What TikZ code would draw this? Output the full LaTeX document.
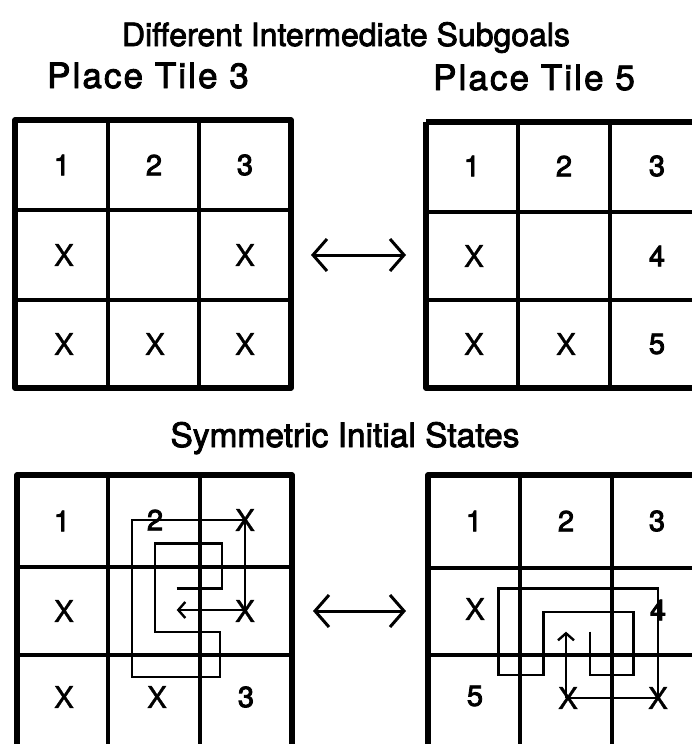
\documentclass[tikz,border=0pt]{standalone}
\usepackage{fontspec}
\setmainfont{TeX Gyre Heros}
\newfontfamily\headfont[FakeBold=2.5]{TeX Gyre Heros}
\newfontfamily\placefont[FakeBold=2.5,LetterSpace=6]{TeX Gyre Heros}
\newfontfamily\digitfont[FakeBold=3]{TeX Gyre Heros}
\newfontfamily\xfont[FakeBold=1]{TeX Gyre Heros}
\usetikzlibrary{arrows.meta}
\begin{document}
\begin{tikzpicture}[x=1pt,y=-1pt,
  outer/.style={line width=5.5pt,line join=round},
  inner/.style={line width=4pt},
  cell/.style={font=\digitfont\fontsize{29}{29}\selectfont,inner sep=0pt},
  xcell/.style={font=\xfont\fontsize{30}{30}\selectfont,inner sep=0pt},
  heading/.style={font=\headfont\fontsize{32}{32}\selectfont,inner sep=0pt,anchor=base},
  bigheading/.style={heading,font=\placefont\fontsize{35}{35}\selectfont},
  symheading/.style={heading,font=\headfont\fontsize{33.5}{33.5}\selectfont},
  swap/.style={line width=3pt,{Straight Barb[length=14pt,width=32pt]}-{Straight Barb[length=14pt,width=32pt]}},
  route/.style={line width=2.4pt,line join=miter},
  routetip/.style={route,-{Straight Barb[length=7pt,width=16pt]}}]
\useasboundingbox (0,0) rectangle (692,744);

% headings
\node[heading] (title) at (346,46) {Different Intermediate Subgoals};
\node[bigheading] (pt3) at (148,88) {Place Tile 3};
\node[bigheading] (pt5) at (534,90) {Place Tile 5};
\node[symheading] (sym) at (345,447) {Symmetric Initial States};

% ---------- top-left grid ----------
\draw[outer] (15,120) rectangle (291,388);
\draw[inner] (108,120) -- (108,388) (199,120) -- (199,388)
             (15,210) -- (291,210) (15,300) -- (291,300);
\node[cell] (a11) at (62,165) {1};
\node[cell] (a12) at (154,165) {2};
\node[cell] (a13) at (245,165) {3};
\node[xcell] (a21) at (64,255) {X};
\node[xcell] (a23) at (245,255) {X};
\node[xcell] (a31) at (64,344) {X};
\node[xcell] (a32) at (155,344) {X};
\node[xcell] (a33) at (245,344) {X};

% ---------- top-right grid ----------
\draw[outer] (426,122) -- (710,122) (426,122) -- (426,388) -- (710,388);
\draw[inner] (518,122) -- (518,388) (610,122) -- (610,388)
             (426,212) -- (710,212) (426,300) -- (710,300);
\node[cell] (b11) at (472,166) {1};
\node[cell] (b12) at (564,166) {2};
\node[cell] (b13) at (657,166) {3};
\node[xcell] (b21) at (474,256) {X};
\node[cell] (b23) at (657,256) {4};
\node[xcell] (b31) at (474,344) {X};
\node[xcell] (b32) at (566,344) {X};
\node[cell] (b33) at (657,344) {5};

% swap arrow top
\coordinate (sa1) at (311,255);
\coordinate (sa2) at (406,255);
\draw[swap] (sa1) -- (sa2);

% ---------- bottom-left grid ----------
\draw[outer] (17,755) -- (17,475) -- (292,475) -- (292,755);
\draw[inner] (108,475) -- (108,755) (200,475) -- (200,755)
             (17,567) -- (292,567) (17,655) -- (292,655);
\draw[route] (176.7,588.3) -- (221.7,588.3) -- (221.7,543.3) -- (155,543.3)
  -- (155,631.7) -- (220,631.7) -- (220,676.7) -- (131.7,676.7)
  -- (131.7,520) -- (245,520) -- (245,610);
\draw[routetip] (245,610) -- (176.7,610);
\node[cell] (c11) at (62,521) {1};
\node[cell] (c12) at (155,520) {2};
\node[xcell] (c13) at (245,520) {X};
\node[xcell] (c21) at (64,611) {X};
\node[xcell] (c23) at (245,611) {X};
\node[xcell] (c31) at (64,697) {X};
\node[xcell] (c32) at (157,697) {X};
\node[cell] (c33) at (246,697) {3};

% ---------- bottom-right grid ----------
\draw[outer] (428,755) -- (428,475) -- (710,475);
\draw[inner] (520,475) -- (520,755) (612,475) -- (612,755)
             (428,568) -- (710,568) (428,655) -- (710,655);
\draw[route] (590,631.7) -- (590,675) -- (633.3,675) -- (633.3,611.7)
  -- (543.3,611.7) -- (543.3,675) -- (498.3,675) -- (498.3,588.3)
  -- (658,588.3) -- (658,698) -- (566,698);
\draw[routetip] (566,698) -- (566,631.7);
\node[cell] (d11) at (474,521) {1};
\node[cell] (d12) at (566,521) {2};
\node[cell] (d13) at (657,521) {3};
\node[xcell] (d21) at (475,609) {X};
\node[cell] (d23) at (658,610) {4};
\node[cell] (d31) at (475,696) {5};
\node[xcell] (d32) at (568,698) {X};
\node[xcell] (d33) at (658,698) {X};

% swap arrow bottom
\coordinate (sb1) at (313,611);
\coordinate (sb2) at (406,611);
\draw[swap] (sb1) -- (sb2);
\end{tikzpicture}
\end{document}
